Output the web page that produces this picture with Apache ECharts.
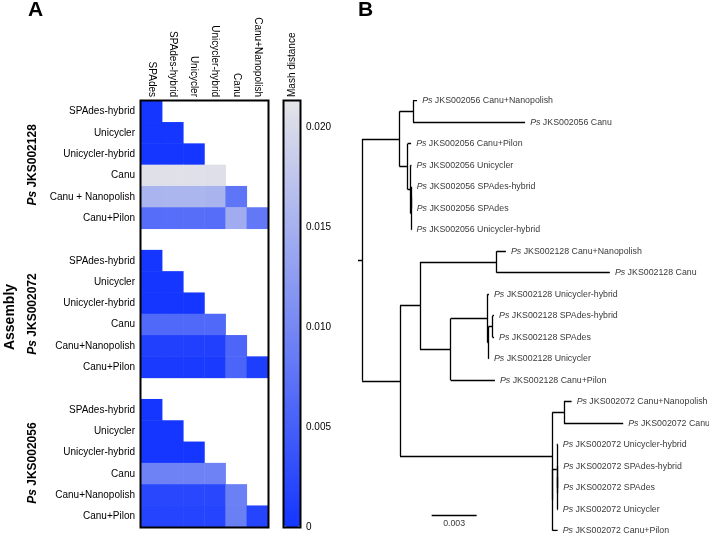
<!DOCTYPE html>
<html><head><meta charset="utf-8">
<script src="https://cdn.jsdelivr.net/npm/echarts@6/dist/echarts.min.js"></script>
<style>html,body{margin:0;padding:0;background:#fff}#c{width:709px;height:535px}</style>
</head><body><div id="c"></div>
<script>
// ---------- Panel A data ----------
const columns = ['SPAdes', 'SPAdes-hybrid', 'Unicycler', 'Unicycler-hybrid', 'Canu', 'Canu+Nanopolish'];
const strains = ['JKS002128', 'JKS002072', 'JKS002056'];
const rowLabels128 = ['SPAdes-hybrid', 'Unicycler', 'Unicycler-hybrid', 'Canu', 'Canu + Nanopolish', 'Canu+Pilon'];
const rowLabels072 = ['SPAdes-hybrid', 'Unicycler', 'Unicycler-hybrid', 'Canu', 'Canu+Nanopolish', 'Canu+Pilon'];
const rowLabels056 = ['SPAdes-hybrid', 'Unicycler', 'Unicycler-hybrid', 'Canu', 'Canu+Nanopolish', 'Canu+Pilon'];
// lower-triangular Mash distances (row i has i+1 values, columns SPAdes..)
const mash128 = [
  [0],
  [0, 0],
  [0, 0, 0],
  [0.0209, 0.0209, 0.0209, 0.0207],
  [0.0154, 0.0155, 0.0155, 0.0153, 0.0077],
  [0.0067, 0.0068, 0.0068, 0.0067, 0.0143, 0.0081]
];
const mash072 = [
  [0],
  [0, 0],
  [0, 0, 0],
  [0.0062, 0.0062, 0.0062, 0.0062],
  [0.0012, 0.0012, 0.0012, 0.0012, 0.0058],
  [0.0006, 0.0006, 0.0006, 0.0006, 0.0057, 0.0010]
];
const mash056 = [
  [0],
  [0, 0],
  [0, 0, 0],
  [0.0093, 0.0093, 0.0093, 0.0093],
  [0.0022, 0.0022, 0.0022, 0.0022, 0.0090],
  [0.0017, 0.0017, 0.0017, 0.0017, 0.0089, 0.0017]
];
const mashMax = 0.0213;
const colorbarTicks = [0, 0.005, 0.010, 0.015, 0.020];

// ---------- Panel B data ----------
// [id, parent, branch length, strain, assembly]
const treeNodes = [
  ['root', null, 0],
  ['R', 'root', 0.00027],
  ['N56', 'R', 0.00249],
  ['N56a', 'N56', 0.00091],
  ['L1', 'N56a', 0.00027, 'JKS002056', 'Canu+Nanopolish'],
  ['L2', 'N56a', 0.00747, 'JKS002056', 'Canu'],
  ['N56b', 'N56', 0.00055],
  ['L3', 'N56b', 0.00023, 'JKS002056', 'Canu+Pilon'],
  ['N56c', 'N56b', 0.00020],
  ['L4', 'N56c', 0.00005, 'JKS002056', 'Unicycler'],
  ['N56d', 'N56c', 0.00002],
  ['N56e', 'N56d', 0.00003],
  ['L5', 'N56e', 0.00002, 'JKS002056', 'SPAdes-hybrid'],
  ['L6', 'N56e', 0.00002, 'JKS002056', 'SPAdes'],
  ['L7', 'N56d', 0.00003, 'JKS002056', 'Unicycler-hybrid'],
  ['N2', 'R', 0.00253],
  ['N128', 'N2', 0.00133],
  ['N128a', 'N128', 0.00511],
  ['L8', 'N128a', 0.00062, 'JKS002128', 'Canu+Nanopolish'],
  ['L9', 'N128a', 0.00755, 'JKS002128', 'Canu'],
  ['N128b', 'N128', 0.00205],
  ['N128c', 'N128b', 0.00245],
  ['L10', 'N128c', 0.00010, 'JKS002128', 'Unicycler-hybrid'],
  ['N128d', 'N128c', 0.00007],
  ['N128e', 'N128d', 0.00027],
  ['L11', 'N128e', 0.00010, 'JKS002128', 'SPAdes-hybrid'],
  ['L12', 'N128e', 0.00010, 'JKS002128', 'SPAdes'],
  ['L13', 'N128d', 0.00003, 'JKS002128', 'Unicycler'],
  ['L14', 'N128b', 0.00295, 'JKS002128', 'Canu+Pilon'],
  ['N72', 'N2', 0.01015],
  ['N72a', 'N72', 0.00078],
  ['L15', 'N72a', 0.00051, 'JKS002072', 'Canu+Nanopolish'],
  ['L16', 'N72a', 0.00395, 'JKS002072', 'Canu'],
  ['N72x', 'N72', 0.00003],
  ['N72b', 'N72x', 0.00027],
  ['L17', 'N72b', 0.00007, 'JKS002072', 'Unicycler-hybrid'],
  ['N72d', 'N72b', 0.00002],
  ['N72e', 'N72d', 0.00002],
  ['L18', 'N72e', 0.00005, 'JKS002072', 'SPAdes-hybrid'],
  ['L19', 'N72e', 0.00005, 'JKS002072', 'SPAdes'],
  ['L20', 'N72d', 0.00005, 'JKS002072', 'Unicycler'],
  ['L21', 'N72x', 0.00033, 'JKS002072', 'Canu+Pilon']
];
const scaleBarLength = 0.003;

// ---------- layout constants ----------
const FONT = 'Liberation Sans, Arial, Helvetica, sans-serif';
const HM = {left: 141, top: 101, width: 127, height: 426};
const CB = {left: 284, top: 101, width: 16, height: 426};
const TREE = {left: 358, top: 100.7, width: 300, height: 430, xMax: 0.02, yMax: 20};
const scaleBarPos = {x: 0.00491, y: 19.3};
const LEAF_FS = 8.8;

// ---------- build heatmap ----------
const rowGroups = [rowLabels128, rowLabels072, rowLabels056];
const mashGroups = [mash128, mash072, mash056];
const yCats = [];
rowGroups.forEach((g, gi) => { g.forEach(l => yCats.push(l)); if (gi < rowGroups.length - 1) yCats.push(''); });
const hmData = [];
mashGroups.forEach((m, gi) => {
  m.forEach((row, ri) => row.forEach((v, ci) => hmData.push([ci, gi * 7 + ri, v])));
});

// ---------- build tree ----------
const nodeMap = {};
treeNodes.forEach(n => { nodeMap[n[0]] = {id: n[0], parent: n[1], len: n[2], strain: n[3], asm: n[4], children: []}; });
treeNodes.forEach(n => { if (n[1]) nodeMap[n[1]].children.push(nodeMap[n[0]]); });
let leafCounter = 0;
function layout(node, x0) {
  node.x = x0 + node.len;
  if (node.children.length === 0) { node.y = leafCounter++; }
  else {
    node.children.forEach(c => layout(c, node.x));
    node.y = (node.children[0].y + node.children[node.children.length - 1].y) / 2;
  }
}
const root = nodeMap['root'];
layout(root, 0);
const segs = [];
const leaves = [];
Object.values(nodeMap).forEach(n => {
  if (n.parent) {
    const p = nodeMap[n.parent];
    segs.push({coords: [[p.x, n.y], [n.x, n.y]]});
  }
  if (n.children.length > 1) {
    segs.push({coords: [[n.x, n.children[0].y], [n.x, n.children[n.children.length - 1].y]]});
  }
  if (n.children.length === 0) leaves.push({value: [n.x, n.y], name: n.strain + ' ' + n.asm});
});
segs.push({coords: [[scaleBarPos.x, scaleBarPos.y], [scaleBarPos.x + scaleBarLength, scaleBarPos.y]]});

const chart = echarts.init(document.getElementById('c'), null, {renderer: 'canvas'});

function rt(size, weight, style) {
  return {fontSize: size, fontWeight: weight || 'normal', fontStyle: style || 'normal', fontFamily: FONT, color: '#000', fill: '#000'};
}

const graphics = [
  {type: 'text', left: 28, top: 0, style: {text: 'A', font: 'bold 21px ' + FONT, fill: '#000'}},
  {type: 'text', left: 358, top: 0, style: {text: 'B', font: 'bold 21px ' + FONT, fill: '#000'}},
  {type: 'text', x: 10, y: 317, rotation: Math.PI / 2,
    style: {text: 'Assembly', font: 'bold 14px ' + FONT, fill: '#000', align: 'center', verticalAlign: 'middle', textAlign: 'center', textVerticalAlign: 'middle'}},
  {type: 'text', x: 292, y: 97, rotation: Math.PI / 2,
    style: {text: 'Mash distance', font: '10px ' + FONT, fill: '#000', align: 'left', verticalAlign: 'middle', textAlign: 'left', textVerticalAlign: 'middle'}},
  {type: 'rect', shape: {x: HM.left - 0.5, y: HM.top - 0.5, width: HM.width + 1, height: HM.height + 1},
    style: {fill: 'none', stroke: '#000', lineWidth: 2}, z: 100},
  {type: 'rect', shape: {x: CB.left - 0.5, y: CB.top - 0.5, width: CB.width + 1, height: CB.height + 1},
    style: {fill: 'none', stroke: '#000', lineWidth: 2}, z: 100}
];
const rowH = HM.height / yCats.length;
strains.forEach((s, gi) => {
  const cy = HM.top + rowH * (gi * 7 + 3);
  graphics.push({type: 'text', x: 33, y: cy, rotation: Math.PI / 2,
    style: {text: '{i|Ps }{b|' + s + '}', align: 'center', verticalAlign: 'middle', textAlign: 'center', textVerticalAlign: 'middle',
      fontSize: 12, fontWeight: 'bold', fontFamily: FONT, fill: '#000',
      rich: {i: rt(12, 'bold', 'italic'), b: rt(12, 'bold')}}});
});

const option = {
  animation: false,
  textStyle: {fontFamily: FONT},
  grid: [
    {left: HM.left, top: HM.top, width: HM.width, height: HM.height},
    {left: CB.left, top: CB.top, width: CB.width, height: CB.height},
    {left: TREE.left, top: TREE.top, width: TREE.width, height: TREE.height}
  ],
  xAxis: [
    {gridIndex: 0, type: 'category', data: columns, position: 'top',
      axisLine: {show: false}, axisTick: {show: false}, splitLine: {show: false},
      axisLabel: {rotate: 90, interval: 0, margin: 4, fontSize: 10, color: '#000', fontFamily: FONT}},
    {gridIndex: 1, type: 'value', show: false, min: 0, max: 1},
    {gridIndex: 2, type: 'value', show: false, min: 0, max: TREE.xMax}
  ],
  yAxis: [
    {gridIndex: 0, type: 'category', data: yCats, inverse: true,
      axisLine: {show: false}, axisTick: {show: false}, splitLine: {show: false},
      axisLabel: {interval: 0, margin: 6, fontSize: 10, color: '#000', fontFamily: FONT}},
    {gridIndex: 1, type: 'value', min: 0, max: mashMax, position: 'right',
      axisLine: {show: false}, splitLine: {show: false},
      axisTick: {show: true, length: 3, lineStyle: {color: '#000', width: 1}, customValues: colorbarTicks},
      axisLabel: {fontSize: 10, color: '#000', margin: 6, fontFamily: FONT, customValues: colorbarTicks,
        formatter: v => v === 0 ? '0' : v.toFixed(3)}},
    {gridIndex: 1, type: 'value', min: 0, max: mashMax, position: 'left',
      axisLine: {show: false}, splitLine: {show: false},
      axisTick: {show: true, inside: true, length: 3, lineStyle: {color: '#000', width: 1}, customValues: colorbarTicks},
      axisLabel: {show: false}},
    {gridIndex: 2, type: 'value', show: false, min: 0, max: TREE.yMax, inverse: true}
  ],
  visualMap: {
    type: 'continuous', min: 0, max: mashMax, seriesIndex: 0, calculable: false, hoverLink: false,
    left: CB.left, top: CB.top, itemWidth: CB.width, itemHeight: CB.height, padding: 0, text: null,
    inRange: {color: ['#1436ff', '#e4e4e8']}
  },
  graphic: graphics,
  series: [
    {type: 'heatmap', xAxisIndex: 0, yAxisIndex: 0, data: hmData, silent: true,
      itemStyle: {borderWidth: 0}, emphasis: {disabled: true}},
    {type: 'lines', coordinateSystem: 'cartesian2d', xAxisIndex: 2, yAxisIndex: 3, silent: true,
      polyline: false, data: segs, lineStyle: {color: '#000', width: 1.3, opacity: 1, curveness: 0}},
    {type: 'scatter', xAxisIndex: 2, yAxisIndex: 3, data: leaves, symbolSize: 0.1, silent: true,
      itemStyle: {color: 'rgba(0,0,0,0)'},
      label: {show: true, position: 'right', distance: 5, fontSize: LEAF_FS, fontFamily: FONT, color: '#000',
        formatter: p => '{i|Ps }{n|' + p.name + '}',
        rich: {i: rt(LEAF_FS, 'normal', 'italic'), n: rt(LEAF_FS)}}},
    {type: 'scatter', xAxisIndex: 2, yAxisIndex: 3, silent: true, symbolSize: 0.1,
      itemStyle: {color: 'rgba(0,0,0,0)'},
      data: [{value: [scaleBarPos.x + scaleBarLength / 2, scaleBarPos.y], name: String(scaleBarLength)}],
      label: {show: true, position: 'bottom', distance: 3, formatter: p => p.name,
        fontSize: LEAF_FS, color: '#000', fontFamily: FONT}}
  ]
};
chart.setOption(option);
</script></body></html>
